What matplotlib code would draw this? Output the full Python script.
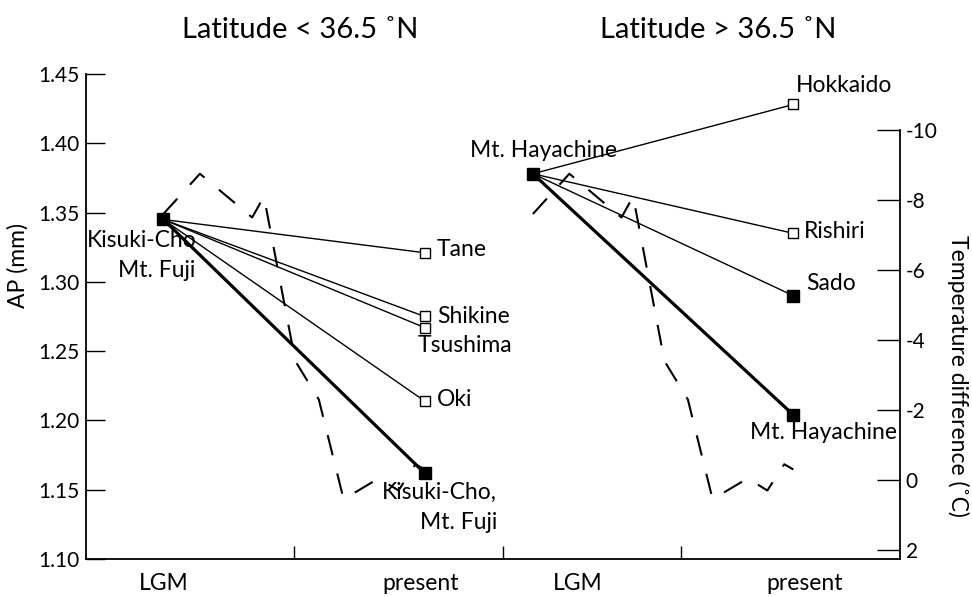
import matplotlib
matplotlib.use("Agg")
import matplotlib.pyplot as plt

plt.rcParams['font.family'] = ['Lato', 'DejaVu Sans']

# x axis: two panels, LGM -> present
stage_labels = ["LGM", "present", "LGM", "present"]

# sites south of 36.5 N
south_sites = ["Tane", "Shikine", "Tsushima", "Oki", "Kisuki-Cho, Mt. Fuji"]
south_lgm_ap = 1.345
south_present_ap = [1.321, 1.275, 1.267, 1.214, 1.162]

# sites north of 36.5 N
north_sites = ["Hokkaido", "Rishiri", "Sado", "Mt. Hayachine"]
north_lgm_ap = 1.378
north_present_ap = [1.428, 1.335, 1.290, 1.204]

# temperature difference curve (fraction of LGM->present span, deg C)
temp_time = [0, 0.14, 0.34, 0.385, 0.505, 0.595, 0.69, 0.825, 0.90, 0.965, 1.0]
temp_diff = [-7.6, -8.75, -7.5, -8.1, -3.4, -2.3, 0.55, -0.05, 0.3, -0.45, -0.3]

# layout
x_lgm = [0.095, 0.549]
x_pres = [0.416, 0.869]
label_pos = [0.095, 0.411, 0.604, 0.883]
sep_ticks = [0.2555, 0.512, 0.731]
south_filled = {"Kisuki-Cho, Mt. Fuji"}
north_filled = {"Sado", "Mt. Hayachine"}
thick = {"Kisuki-Cho, Mt. Fuji", "Mt. Hayachine"}

fig = plt.figure(figsize=(9.72, 5.97), dpi=100)
ax = fig.add_axes([86/972, 1 - 559/597, 814/972, (559 - 74)/597])
ax2 = ax.twinx()

def draw_group(x0, x1, lgm, sites, present, filled):
    for s, v in zip(sites, present):
        lw = 2.3 if s in thick else 1.0
        ax.plot([x0, x1], [lgm, v], color='black', lw=lw, zorder=3)
        if s in filled:
            ax.plot(x1, v, marker='s', ms=8.5, color='black', zorder=4)
        else:
            ax.plot(x1, v, marker='s', ms=7, mfc='white', mec='black', mew=1.0, zorder=4)
    ax.plot(x0, lgm, marker='s', ms=8.5, color='black', zorder=4)

draw_group(x_lgm[0], x_pres[0], south_lgm_ap, south_sites, south_present_ap, south_filled)
draw_group(x_lgm[1], x_pres[1], north_lgm_ap, north_sites, north_present_ap, north_filled)

for x0, x1 in zip(x_lgm, x_pres):
    xs = [x0 + t * (x1 - x0) for t in temp_time]
    ax2.plot(xs, temp_diff, color='black', lw=1.5, dashes=(10, 9), zorder=2)

fs = 16.5
tfs = 15
ax.text(0.136, 1.330, "Kisuki-Cho", ha='right', va='center', fontsize=fs, zorder=1)
ax.text(0.134, 1.308, "Mt. Fuji", ha='right', va='center', fontsize=fs)
ax.text(0.431, 1.323, "Tane", ha='left', va='center', fontsize=fs)
ax.text(0.431, 1.275, "Shikine", ha='left', va='center', fontsize=fs)
ax.text(0.408, 1.254, "Tsushima", ha='left', va='center', fontsize=fs)
ax.text(0.431, 1.215, "Oki", ha='left', va='center', fontsize=fs)
ax.text(0.505, 1.148, "Kisuki-Cho,", ha='right', va='center', fontsize=fs)
ax.text(0.505, 1.126, "Mt. Fuji", ha='right', va='center', fontsize=fs)
ax.text(0.872, 1.442, "Hokkaido", ha='left', va='center', fontsize=fs)
ax.text(0.472, 1.395, "Mt. Hayachine", ha='left', va='center', fontsize=fs)
ax.text(0.882, 1.336, "Rishiri", ha='left', va='center', fontsize=fs)
ax.text(0.885, 1.299, "Sado", ha='left', va='center', fontsize=fs)
ax.text(0.816, 1.191, "Mt. Hayachine", ha='left', va='center', fontsize=fs)

ax.set_xlim(0, 1)
ax.set_ylim(1.10, 1.45)
ax.set_yticks([1.10, 1.15, 1.20, 1.25, 1.30, 1.35, 1.40, 1.45])
ax.set_yticklabels(["%.2f" % v for v in ax.get_yticks()], fontsize=tfs)
ax.set_xticks(sep_ticks)
ax.set_xticklabels([])
ax.set_xticks(label_pos, minor=True)
ax.set_xticklabels(stage_labels, minor=True, fontsize=fs)
ax.tick_params(axis='x', which='major', direction='in', length=9.5, width=1)
ax.tick_params(axis='x', which='minor', length=0, pad=10)
ax.tick_params(axis='y', direction='in', length=14, width=1, pad=5)
for side in ['top', 'right']:
    ax.spines[side].set_visible(False)
ax.spines['left'].set_bounds(1.10, 1.45)

t_bottom = 79/35
ax2.set_ylim(t_bottom, (74 - 480)/35)
ax2.set_yticks([-10, -8, -6, -4, -2, 0, 2])
ax2.set_yticklabels(["-10", "-8", "-6", "-4", "-2", "0", "2"], fontsize=tfs)
ax2.tick_params(axis='y', direction='in', length=16.5, width=1, pad=4)
for side in ['top', 'left', 'bottom']:
    ax2.spines[side].set_visible(False)
ax2.spines['right'].set_bounds(-10, t_bottom)

for a in (ax, ax2):
    for sp in a.spines.values():
        sp.set_linewidth(1.3)

fig.text(300/972, 1 - 30/597, "Latitude < 36.5 \u02daN", ha='center', va='center', fontsize=21)
fig.text(718/972, 1 - 30/597, "Latitude > 36.5 \u02daN", ha='center', va='center', fontsize=21)
fig.text(18/972, 1 - 265/597, "AP (mm)", rotation=90, ha='center', va='center', fontsize=fs)
fig.text(958/972, 1 - 376/597, "Temperature difference (\u02daC)", rotation=270,
         ha='center', va='center', fontsize=fs)

fig.savefig("out.png", dpi=100)
